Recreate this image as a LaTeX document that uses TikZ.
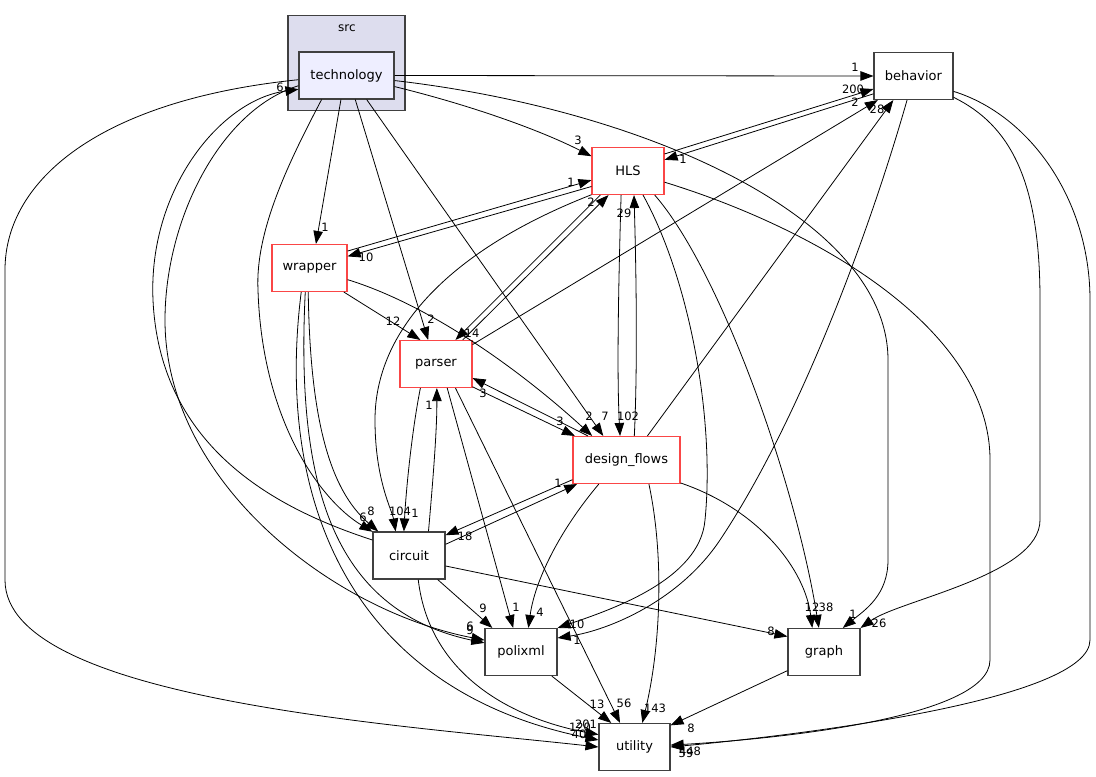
\documentclass[tikz,border=0pt]{standalone}
\usepackage{fontspec}
\setmainfont{DejaVu Sans}
\usetikzlibrary{arrows.meta}
\definecolor{dirgray}{RGB}{64,64,64}
\definecolor{dirred}{RGB}{250,70,70}
\definecolor{techfill}{RGB}{238,238,255}
\definecolor{srcfill}{RGB}{221,221,238}

\begin{document}
\begin{tikzpicture}[x=1pt, y=-1pt,
  dir/.style={draw=dirgray, line width=1.1pt, fill=white, minimum height=47pt, inner sep=0pt, font=\fontsize{13}{15}\selectfont},
  reddir/.style={dir, draw=dirred},
  dep/.style={line width=0.8pt, -{Triangle[length=13pt,width=9.5pt]}},
  num/.style={inner sep=0pt, font=\fontsize{11.5}{12}\selectfont}]

\useasboundingbox (0,0) rectangle (1096,777);

\node[draw=dirgray, line width=1.1pt, fill=srcfill, minimum width=117pt, minimum height=95pt] (src) at (346.5,63) {};
\node[num, font=\fontsize{12}{13}\selectfont] (srclabel) at (347,28) {src};

\node[dir, fill=techfill, minimum width=95pt] (tech) at (346.5,75.5) {technology};
\node[dir, minimum width=79pt] (behav) at (913.5,76) {behavior};
\node[reddir, minimum width=72pt] (hls) at (628,171) {HLS};
\node[reddir, minimum width=75pt] (wrap) at (309.5,268) {wrapper};
\node[reddir, minimum width=72pt] (parser) at (436,364) {parser};
\node[reddir, minimum width=107pt] (flows) at (626.5,460) {design\_flows};
\node[dir, minimum width=72pt] (circ) at (409,555.5) {circuit};
\node[dir, minimum width=72pt] (polix) at (521,652) {polixml};
\node[dir, minimum width=72pt] (graph) at (824,652) {graph};
\node[dir, minimum width=71pt] (util) at (634.5,747) {utility};

\draw[dep] (tech.east) -- (behav.west);
\draw[dep] (tech.-13.6) .. controls (470,105) and (540,130) .. (hls.158.7);
\draw[dep] (tech.-103) -- (wrap.75);
\draw[dep] (tech.-70) -- (parser.108);
\draw[dep] (tech.-50) -- (flows.134);
\draw[dep] (tech.-6.6) .. controls (650,110) and (888,220) .. (888,360) -- (888,560) .. controls (888,595) and (865,610) .. (graph.52);
\draw[dep] (tech.-136) .. controls (290,160) and (255,230) .. (258,290) .. controls (262,420) and (320,500) .. (circ.147);
\draw[dep] (tech.192) .. controls (220,110) and (165,220) .. (165,320) .. controls (165,480) and (330,610) .. (polix.162);
\draw[dep] (tech.185) .. controls (100,100) and (5,180) .. (5,270) -- (5,580) .. controls (5,700) and (400,725) .. (util.180);
\draw[dep] (circ.157) .. controls (280,510) and (160,450) .. (153,300) .. controls (148,190) and (220,100) .. (tech.196);

\draw[dep] (hls.25) -- (behav.198);
\draw[dep] (behav.-156) -- (hls.17);
\draw[dep] (parser.28) -- (behav.-146);
\draw[dep] (flows.49.5) -- (behav.-130.5);
\draw[dep] (behav.-105) .. controls (870,230) and (800,420) .. (720,540) .. controls (680,600) and (610,630) .. (polix.21);
\draw[dep] (behav.-28) .. controls (1010,125) and (1040,180) .. (1040,300) -- (1040,520) .. controls (1040,575) and (900,600) .. (graph.north east);
\draw[dep] (behav.-21) .. controls (1030,115) and (1090,200) .. (1090,300) -- (1090,640) .. controls (1090,700) and (800,735) .. (util.0);

\draw[dep] (hls.-17) .. controls (820,230) and (990,330) .. (990,460) -- (990,660) .. controls (990,720) and (760,740) .. (util.3);
\draw[dep] (hls.-58) .. controls (690,280) and (715,420) .. (705,520) .. controls (700,580) and (610,610) .. (polix.north east);
\draw[dep] (hls.-42) .. controls (720,270) and (795,480) .. (graph.102);
\draw[dep] (hls.-139) -- (parser.51.6);
\draw[dep] (parser.42.7) -- (hls.-129.8);
\draw[dep] (hls.-157) -- (wrap.17.7);
\draw[dep] (wrap.24.4) -- (hls.-166);
\draw[dep] (hls.-106) .. controls (618,300) and (617,380) .. (flows.105);
\draw[dep] (flows.72.6) .. controls (637,380) and (637,300) .. (hls.-76);
\draw[dep] (hls.-147) .. controls (450,250) and (375,330) .. (375,420) .. controls (375,480) and (392,510) .. (circ.119);

\draw[dep] (parser.-32) -- (flows.155.5);
\draw[dep] (flows.148) -- (parser.-21.3);
\draw[dep] (parser.-123.7) .. controls (412,430) and (406,490) .. (circ.102);
\draw[dep] (circ.51) .. controls (433,480) and (437,430) .. (parser.-88);
\draw[dep] (parser.-65.4) -- (polix.108.4);
\draw[dep] (parser.-51.6) -- (util.121);

\draw[dep] (wrap.-35.9) -- (parser.123.7);
\draw[dep] (wrap.-17.7) .. controls (430,305) and (520,370) .. (flows.145.2);
\draw[dep] (wrap.-93.6) .. controls (310,420) and (330,490) .. (circ.142);
\draw[dep] (wrap.-100.6) .. controls (296,480) and (330,610) .. (polix.166);
\draw[dep] (wrap.-109.5) .. controls (275,500) and (350,690) .. (util.169);

\draw[dep] (flows.-160) -- (circ.29.7);
\draw[dep] (circ.17.7) -- (flows.-154);
\draw[dep] (flows.-139) .. controls (560,530) and (535,580) .. (polix.73.7);
\draw[dep] (flows.-23) .. controls (760,510) and (805,570) .. (graph.116.6);
\draw[dep] (flows.-47) .. controls (665,560) and (660,650) .. (util.72.6);

\draw[dep] (circ.-40.6) -- (polix.140.4);
\draw[dep] (circ.-16.3) -- (graph.157.4);
\draw[dep] (circ.-69.4) .. controls (430,680) and (520,720) .. (util.161);
\draw[dep] (polix.-38.7) -- (util.134.4);
\draw[dep] (graph.-153.4) -- (util.31.8);

\foreach \t/\x/\y [count=\i] in {1/855/67, 200/853/89, 2/855/102, 28/877/109,
  3/578/140, 1/683/159, 1/571/182, 2/591/202, 29/624/213,
  1/325/227, 10/366/257,
  12/393/321, 2/431/319, 14/472/333, 3/483/393, 1/429/405,
  3/560/421, 2/589/416, 7/605/416, 102/628/416, 1/558/483,
  6/363/517, 8/371/511, 104/400/511, 1/415/513, 18/465/536,
  9/483/608, 1/516/607, 4/540/612, 10/577/624, 1/577/640, 6/470/626, 9/470/630,
  8/771/631, 12/812/607, 38/826/607, 1/853/614, 26/879/623,
  13/597/704, 56/624/703, 143/655/708, 8/691/728, 448/690/751, 59/686/753,
  120/580/727, 201/586/724, 40/579/734, 6/280/87}
  \node[num] (lab\i) at (\x,\y) {\t};
\end{tikzpicture}
\end{document}
